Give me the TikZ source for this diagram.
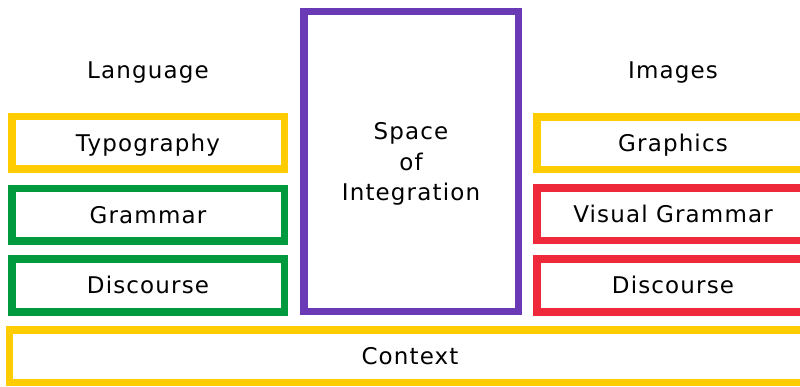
\documentclass[tikz,border=0pt]{standalone}
\usepackage{fontspec}
\setmainfont[LetterSpace=5]{DejaVu Sans}
\usepackage{xcolor}
\usetikzlibrary{positioning}

\definecolor{boxyellow}{HTML}{FFCC00}
\definecolor{boxgreen}{HTML}{009A3E}
\definecolor{boxpurple}{HTML}{6A3AB6}
\definecolor{boxred}{HTML}{EE2A3A}

\begin{document}
\begin{tikzpicture}[x=1pt,y=-1pt,font=\fontsize{23}{30.5}\selectfont,
   bx/.style={rectangle,draw=#1,line width=7.5pt,minimum width=272.5pt,minimum height=52.5pt,
     inner sep=0pt,text height=16.8pt,text depth=0pt},
   hd/.style={inner sep=0pt,text height=16.8pt,text depth=0pt},
   midbx/.style={rectangle,draw=boxpurple,line width=7.5pt,minimum width=214.5pt,minimum height=299.5pt,
     inner sep=0pt,align=center,text depth=0pt}]
  \useasboundingbox (0,0) rectangle (800,387);
  \clip (0,0) rectangle (800,387);
  % language side
  \node[hd] (lang) at (148,70.5) {Language};
  \node[bx=boxyellow] (typo) at (148,143) {Typography};
  \node[bx=boxgreen] (gram) at (148,215) {Grammar};
  \node[bx=boxgreen] (disc) at (148,285.5) {Discourse};
  % middle
  \node[midbx] (space) at (411,161.5) {Space\\of\\Integration};
  % image side
  \node[hd] (img) at (673,70.5) {Images};
  \node[bx=boxyellow] (graph) at (673,143.5) {Graphics};
  \node[bx=boxred] (vgram) at (673,214.5) {Visual Grammar};
  \node[bx=boxred] (vdisc) at (673,285.5) {Discourse};
  % bottom
  \node[bx=boxyellow,minimum width=801pt] (ctx) at (410,356) {Context};
\end{tikzpicture}
\end{document}
